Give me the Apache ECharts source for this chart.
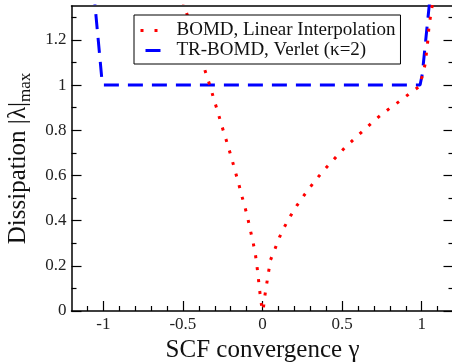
<!DOCTYPE html>
<html><head><meta charset="utf-8">
<script src="https://cdn.jsdelivr.net/npm/echarts@6/dist/echarts.min.js"></script>
<style>html,body{margin:0;padding:0;background:#fff}#c{width:452px;height:364px}</style>
</head><body><div id="c"></div>
<script>
// BOMD, Linear Interpolation (red dotted)
const bomdGamma = [-0.523, -0.491, -0.372, -0.350, -0.325, -0.305, -0.281, -0.261, -0.237, -0.215, -0.193, -0.173, -0.152, -0.133, -0.112, -0.093, -0.077, -0.060, -0.045, -0.035, -0.026, -0.018, -0.009, 0, 0.005, 0.014, 0.026, 0.038, 0.050, 0.079, 0.107, 0.140, 0.176, 0.217, 0.261, 0.309, 0.357, 0.407, 0.460, 0.512, 0.568, 0.623, 0.682, 0.738, 0.801, 0.864, 0.927, 0.985, 1.006, 1.023, 1.031, 1.040, 1.046, 1.058, 1.077];
const bomdLambda = [1.42, 1.35, 1.089, 1.039, 0.987, 0.935, 0.883, 0.831, 0.778, 0.726, 0.674, 0.622, 0.570, 0.517, 0.465, 0.412, 0.36, 0.307, 0.253, 0.2, 0.145, 0.092, 0.039, 0, 0.009, 0.064, 0.118, 0.172, 0.225, 0.276, 0.327, 0.375, 0.421, 0.468, 0.512, 0.557, 0.599, 0.640, 0.680, 0.719, 0.756, 0.792, 0.830, 0.864, 0.898, 0.930, 0.964, 0.994, 1.044, 1.096, 1.150, 1.204, 1.261, 1.314, 1.40];
// TR-BOMD, Verlet (kappa=2) (blue dashed)
const trGamma = [-1.061, -1.01, -1.0, 0.99, 1.004, 1.048, 1.056];
const trLambda = [1.42, 1.032, 1.0, 1.0, 1.049, 1.356, 1.41];

const seriesNames = ['BOMD, Linear Interpolation', 'TR-BOMD, Verlet (κ=2)'];
const xMajorTicks = [-1, -0.5, 0, 0.5, 1];
const xMinorTicks = [-1.1, -0.9, -0.8, -0.7, -0.6, -0.4, -0.3, -0.2, -0.1, 0.1, 0.2, 0.3, 0.4, 0.6, 0.7, 0.8, 0.9, 1.1];
const yMajorTicks = [0, 0.2, 0.4, 0.6, 0.8, 1, 1.2];
const yMinorTicks = [0.1, 0.3, 0.5, 0.7, 0.9, 1.1, 1.3];
const xTitle = 'SCF convergence γ';
const yTitleMain = 'Dissipation |λ|';
const yTitleSub = 'max';

const FONT = "'Liberation Serif', 'DejaVu Serif', serif";
const X_MIN = -1.2, X_MAX = 1.2, Y_MIN = 0, Y_MAX = 1.35;

const chart = echarts.init(document.getElementById('c'), null, {renderer: 'canvas'});

const lineCol = '#000';
const axisLineOn = {show: true, onZero: false, lineStyle: {color: lineCol, width: 1.5}};
const axisLineOff = {show: false, onZero: false};
function xAx(extra) {
  return Object.assign({
    type: 'value', min: X_MIN, max: X_MAX, position: 'bottom',
    axisLine: axisLineOn,
    axisTick: {show: false},
    axisLabel: {show: false},
    splitLine: {show: false}
  }, extra);
}
function yAx(extra) {
  return Object.assign({
    type: 'value', min: Y_MIN, max: Y_MAX, position: 'left',
    axisLine: axisLineOn,
    axisTick: {show: false},
    axisLabel: {show: false},
    splitLine: {show: false}
  }, extra);
}
const tickStyle = {color: lineCol, width: 1.2};
const noSymbol = {color: 'rgba(0,0,0,0)', borderWidth: 0, opacity: 0};

const option = {
  animation: false,
  backgroundColor: '#fff',
  grid: {left: 71.5, top: 6, width: 382, height: 305, containLabel: false, outerBoundsMode: 'none'},
  legend: {
    orient: 'vertical', left: 134, top: 15,
    padding: [6, 5, 4, 5], itemGap: 1,
    itemWidth: 22, itemHeight: 14,
    backgroundColor: '#fff', borderColor: '#000', borderWidth: 1, borderRadius: 0,
    selectedMode: false,
    itemStyle: noSymbol,
    textStyle: {fontFamily: FONT, fontSize: 19, color: '#111', padding: [0, 0, 0, 9]},
    data: [
      {name: seriesNames[0], itemStyle: noSymbol, lineStyle: {type: [3, 11, 3, 100], dashOffset: 0, width: 3}},
      {name: seriesNames[1], itemStyle: noSymbol, lineStyle: {type: [15, 50], dashOffset: 60, width: 3}}
    ]
  },
  xAxis: [
    xAx({
      axisTick: {show: true, inside: true, length: 10, customValues: xMajorTicks, lineStyle: tickStyle},
      axisLabel: {show: true, customValues: xMajorTicks, margin: 5, fontFamily: FONT, fontSize: 17, color: '#222'},
      name: xTitle, nameLocation: 'middle', nameGap: 18,
      nameTextStyle: {fontFamily: FONT, fontSize: 25, color: '#111'}
    }),
    xAx({axisLine: axisLineOff, axisTick: {show: true, inside: true, length: 5, customValues: xMinorTicks, lineStyle: tickStyle}}),
    xAx({position: 'top'})
  ],
  yAxis: [
    yAx({
      axisTick: {show: true, inside: true, length: 10, customValues: yMajorTicks, lineStyle: tickStyle},
      axisLabel: {show: true, customValues: yMajorTicks, margin: 5, fontFamily: FONT, fontSize: 17, color: '#222'},
      name: '{a|' + yTitleMain + '}{b|' + yTitleSub + '}',
      nameLocation: 'middle', nameGap: 30,
      nameTextStyle: {
        fontFamily: FONT, color: '#111',
        rich: {
          a: {fontFamily: FONT, fontSize: 25, color: '#111', lineHeight: 28, verticalAlign: 'top'},
          b: {fontFamily: FONT, fontSize: 17, color: '#111', lineHeight: 17, padding: [20, 0, 0, 0], verticalAlign: 'bottom'}
        }
      }
    }),
    yAx({axisLine: axisLineOff, axisTick: {show: true, inside: true, length: 5, customValues: yMinorTicks, lineStyle: tickStyle}}),
    yAx({position: 'right', axisTick: {show: true, inside: true, length: 10, customValues: yMajorTicks, lineStyle: tickStyle}}),
    yAx({position: 'right', axisLine: axisLineOff, axisTick: {show: true, inside: true, length: 5, customValues: yMinorTicks, lineStyle: tickStyle}})
  ],
  series: [
    {
      type: 'line', name: seriesNames[0], xAxisIndex: 0, yAxisIndex: 0,
      data: bomdGamma.map((g, i) => [g, bomdLambda[i]]),
      symbol: 'none', showSymbol: false, clip: true, z: 3,
      lineStyle: {color: '#ff0000', width: 3, type: [3, 9], cap: 'butt'},
      itemStyle: {color: '#ff0000'},
      emphasis: {disabled: true}
    },
    {
      type: 'line', name: seriesNames[1], xAxisIndex: 0, yAxisIndex: 0,
      data: trGamma.map((g, i) => [g, trLambda[i]]),
      symbol: 'none', showSymbol: false, clip: true, z: 2,
      lineStyle: {color: '#0000ff', width: 3, type: [15, 9], cap: 'butt'},
      itemStyle: {color: '#0000ff'},
      emphasis: {disabled: true}
    }
  ]
};
chart.setOption(option);
</script>
</body></html>
